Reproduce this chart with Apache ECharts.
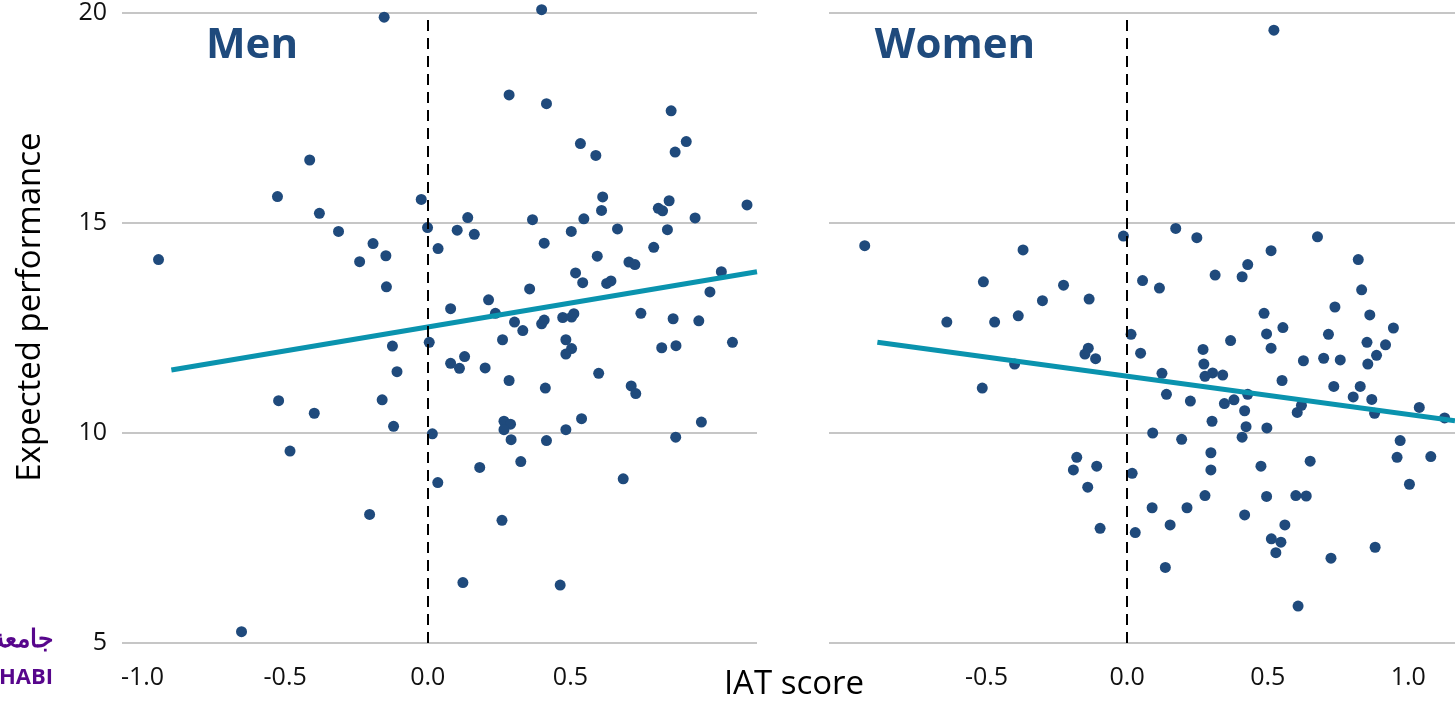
<!DOCTYPE html>
<html>
<head>
<meta charset="utf-8">
<title>IAT score vs expected performance</title>
<script src="https://cdn.jsdelivr.net/npm/echarts@6/dist/echarts.min.js"></script>
<style>
  html, body { margin: 0; padding: 0; background: #fff; }
  #myChart { width: 1455px; height: 701px; }
</style>
</head>
<body>
<div id="myChart"></div>
<script>
// values: [IAT score, expected performance]
var menPoints = [
  [-0.153, 19.90], [-0.414, 16.50], [-0.527, 15.63], [-0.023, 15.56], [-0.380, 15.23],
  [-0.313, 14.80], [-0.001, 14.89], [0.036, 14.39], [-0.944, 14.13], [-0.192, 14.51],
  [-0.239, 14.08], [-0.147, 14.22], [-0.145, 13.48], [-0.124, 12.07], [0.005, 12.16],
  [-0.108, 11.46], [-0.523, 10.77], [-0.398, 10.47], [-0.160, 10.79], [-0.120, 10.16],
  [0.016, 9.98], [-0.483, 9.57], [0.035, 8.82], [-0.204, 8.06], [-0.653, 5.27],
  [0.399, 20.08], [0.285, 18.05], [0.416, 17.84], [0.853, 17.67], [0.535, 16.89],
  [0.906, 16.94], [0.589, 16.61], [0.867, 16.69], [0.613, 15.62], [0.609, 15.30],
  [0.846, 15.53], [0.808, 15.35], [0.823, 15.29], [1.119, 15.43], [0.140, 15.13],
  [0.367, 15.08], [0.547, 15.10], [0.937, 15.12], [0.103, 14.83], [0.163, 14.73],
  [0.503, 14.80], [0.665, 14.86], [0.840, 14.84], [0.408, 14.52], [0.792, 14.42],
  [0.594, 14.21], [0.705, 14.07], [0.726, 14.01], [0.518, 13.81], [0.543, 13.58],
  [0.627, 13.56], [0.642, 13.62], [1.029, 13.84], [0.989, 13.36], [0.357, 13.43],
  [0.213, 13.17], [0.080, 12.96], [0.237, 12.85], [0.304, 12.64], [0.333, 12.44],
  [0.399, 12.60], [0.408, 12.69], [0.473, 12.75], [0.504, 12.76], [0.512, 12.84],
  [0.747, 12.85], [0.860, 12.72], [0.950, 12.67], [0.262, 12.22], [0.484, 12.22],
  [0.504, 12.01], [0.484, 11.88], [0.820, 12.03], [0.870, 12.08], [1.068, 12.16],
  [0.129, 11.82], [0.080, 11.66], [0.111, 11.54], [0.201, 11.55], [0.285, 11.25],
  [0.599, 11.42], [0.713, 11.12], [0.729, 10.94], [0.412, 11.07], [0.539, 10.34],
  [0.267, 10.28], [0.290, 10.21], [0.267, 10.08], [0.292, 9.84], [0.484, 10.08],
  [0.416, 9.82], [0.959, 10.26], [0.869, 9.90], [0.182, 9.18], [0.326, 9.32],
  [0.685, 8.91], [0.260, 7.92], [0.123, 6.44], [0.464, 6.38]
]

var womenPoints = [
  [-0.933, 14.46], [-0.370, 14.36], [-0.013, 14.69], [-0.511, 13.60], [-0.226, 13.52],
  [-0.301, 13.15], [-0.135, 13.19], [-0.641, 12.64], [-0.471, 12.64], [-0.387, 12.79],
  [0.014, 12.35], [-0.138, 12.02], [-0.150, 11.88], [-0.112, 11.77], [-0.400, 11.64],
  [-0.515, 11.07], [-0.179, 9.42], [-0.191, 9.12], [-0.108, 9.21], [-0.140, 8.71],
  [-0.096, 7.73], [0.018, 9.04], [0.029, 7.63],
  [0.522, 19.59], [0.173, 14.87], [0.248, 14.65], [0.677, 14.67], [0.512, 14.34],
  [0.822, 14.13], [0.429, 14.01], [0.409, 13.72], [0.313, 13.76], [0.055, 13.63],
  [0.115, 13.45], [0.834, 13.41], [0.739, 13.00], [0.863, 12.81], [0.487, 12.85],
  [0.554, 12.51], [0.496, 12.36], [0.716, 12.35], [0.947, 12.50], [0.368, 12.20],
  [0.853, 12.16], [0.919, 12.10], [0.512, 12.02], [0.270, 11.99], [0.048, 11.90],
  [0.887, 11.85], [0.627, 11.72], [0.699, 11.78], [0.758, 11.74], [0.273, 11.64],
  [0.856, 11.64], [0.124, 11.42], [0.277, 11.35], [0.304, 11.43], [0.340, 11.38],
  [0.551, 11.25], [0.735, 11.11], [0.829, 11.11], [0.140, 10.92], [0.429, 10.92],
  [0.804, 10.86], [0.870, 10.80], [0.225, 10.76], [0.346, 10.70], [0.380, 10.79],
  [0.418, 10.53], [0.620, 10.66], [0.605, 10.49], [0.880, 10.47], [1.039, 10.61],
  [1.129, 10.36], [0.302, 10.28], [0.423, 10.15], [0.497, 10.12], [0.091, 10.00],
  [0.194, 9.85], [0.409, 9.90], [0.971, 9.82], [0.298, 9.53], [0.298, 9.12],
  [0.476, 9.21], [0.651, 9.33], [0.960, 9.42], [1.080, 9.44], [1.004, 8.78],
  [0.277, 8.51], [0.496, 8.49], [0.600, 8.51], [0.637, 8.50], [0.089, 8.22],
  [0.213, 8.22], [0.418, 8.05], [0.153, 7.81], [0.561, 7.81], [0.513, 7.48],
  [0.547, 7.40], [0.529, 7.15], [0.882, 7.28], [0.725, 7.02], [0.136, 6.80],
  [0.608, 5.88]
]

// trend line ends
var menTrend = [[-0.899, 11.50], [1.154, 13.84]]
var womenTrend = [[-0.888, 12.16], [1.166, 10.29]]

// tick labels
var menTicks = [-1.0, -0.5, 0.0, 0.5]
var womenTicks = [-0.5, 0.0, 0.5, 1.0]
var yTicks = [5, 10, 15, 20]

var FONT = "'Open Sans', 'Noto Sans', sans-serif"
var DOT = '#1F4A7C'
var TEAL = '#0A93AE'
var GRIDLINE = '#C6C6C6'

var myChart = echarts.init(document.getElementById('myChart'))

function xAxisFor (idx, min, max, ticks) {
  return {
    type: 'value',
    gridIndex: idx,
    min: min,
    max: max,
    axisLine: { show: false },
    axisTick: { show: false },
    splitLine: { show: false },
    axisLabel: {
      customValues: ticks,
      formatter: function (v) { return v.toFixed(1) },
      margin: 22,
      color: '#111',
      fontFamily: FONT,
      fontSize: 25
    }
  }
}

function yAxisFor (idx, labels) {
  return {
    type: 'value',
    gridIndex: idx,
    min: 5,
    max: 20,
    interval: 5,
    axisLine: { show: false },
    axisTick: { show: false },
    splitLine: { show: true, lineStyle: { color: GRIDLINE, width: 2 } },
    axisLabel: {
      show: labels,
      customValues: yTicks,
      margin: 15,
      color: '#111',
      fontFamily: FONT,
      fontSize: 25
    }
  }
}

var zeroLine = {
  silent: true,
  symbol: ['none', 'none'],
  label: { show: false },
  lineStyle: { color: '#000', width: 2, type: [11, 7] },
  data: [{ xAxis: 0 }]
}

myChart.setOption({
  animation: false,
  grid: [
    { left: 122, top: 13, width: 635, height: 630 },
    { left: 829, top: 13, width: 635, height: 630 }
  ],
  xAxis: [
    xAxisFor(0, -1.072, 1.154, menTicks),
    xAxisFor(1, -1.06, 1.166, womenTicks)
  ],
  yAxis: [yAxisFor(0, true), yAxisFor(1, false)],
  series: [
    {
      type: 'scatter',
      xAxisIndex: 0,
      yAxisIndex: 0,
      data: menPoints,
      symbolSize: 11,
      clip: false,
      itemStyle: { color: DOT, opacity: 1 },
      markLine: zeroLine,
      z: 3
    },
    {
      type: 'line',
      xAxisIndex: 0,
      yAxisIndex: 0,
      data: menTrend,
      showSymbol: false,
      lineStyle: { color: TEAL, width: 5 },
      z: 4
    },
    {
      type: 'scatter',
      xAxisIndex: 1,
      yAxisIndex: 1,
      data: womenPoints,
      symbolSize: 11,
      clip: false,
      itemStyle: { color: DOT, opacity: 1 },
      markLine: zeroLine,
      z: 3
    },
    {
      type: 'line',
      xAxisIndex: 1,
      yAxisIndex: 1,
      data: womenTrend,
      showSymbol: false,
      lineStyle: { color: TEAL, width: 5 },
      z: 4
    }
  ],
  graphic: [
    {
      type: 'text', x: 252, y: 46,
      style: { text: 'Men', fill: '#1F4A7C', font: 'bold 42px ' + FONT, align: 'center', verticalAlign: 'middle' }
    },
    {
      type: 'text', x: 955, y: 46,
      style: { text: 'Women', fill: '#1F4A7C', font: 'bold 42px ' + FONT, align: 'center', verticalAlign: 'middle' }
    },
    {
      type: 'text', x: 794, y: 685,
      style: { text: 'IAT score', fill: '#000', font: '33px ' + FONT, align: 'center', verticalAlign: 'middle' }
    },
    {
      type: 'text', x: 31, y: 307, rotation: Math.PI / 2,
      style: { text: 'Expected performance', fill: '#000', font: '33px ' + FONT, align: 'center', verticalAlign: 'middle' }
    },
    {
      type: 'text', x: 53, y: 640,
      style: { text: 'جامعة', fill: '#57068C', font: 'bold 25px ' + FONT, align: 'right', verticalAlign: 'middle' }
    },
    {
      type: 'text', x: 53, y: 678,
      style: { text: 'DHABI', fill: '#57068C', font: 'bold 22px ' + FONT, align: 'right', verticalAlign: 'middle' }
    }
  ]
})
</script>
</body>
</html>
